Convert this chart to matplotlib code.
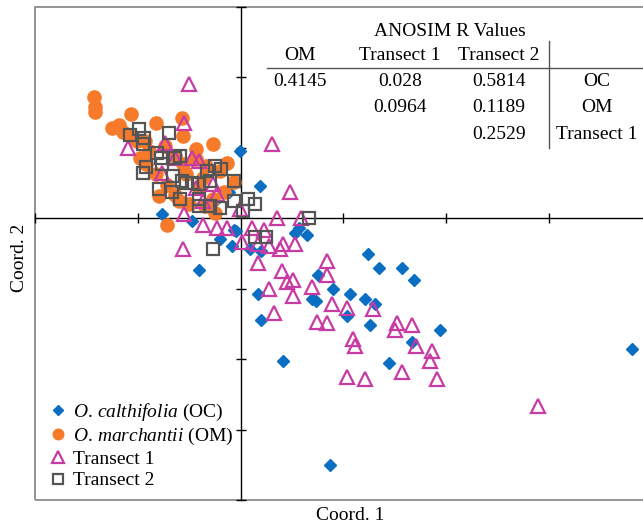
import matplotlib
matplotlib.use("Agg")
import matplotlib.pyplot as plt
from matplotlib.lines import Line2D
from matplotlib.patches import Rectangle

plt.rcParams['font.family'] = ['Liberation Serif', 'DejaVu Serif']
plt.rcParams['mathtext.fontset'] = 'custom'
plt.rcParams['mathtext.rm'] = 'Liberation Serif'
plt.rcParams['mathtext.it'] = 'Liberation Serif:italic'

# ---------------- data (Coord. 1, Coord. 2) ----------------
oc_x = [-0.01, 0.19, -0.76, -0.47, -0.40, -0.25, -0.11, -0.06, -0.20, -0.08, 0.09, 0.20,
        0.53, 0.57, 0.65, 1.24, 1.35, 1.57, 1.69, 0.75, 0.17, 0.90, 1.06, 1.21, 1.31,
        0.69, 0.73, 1.04, 0.20, 1.26, 1.94, 1.67, 0.41, 1.44, 3.81, 0.87, -0.04]
oc_y = [0.95, 0.46, 0.06, -0.04, -0.73, 0.24, 0.38, -0.16, -0.30, -0.40, -0.44, -0.47,
        -0.21, -0.14, -0.24, -0.50, -0.71, -0.71, -0.87, -0.80, -1.07, -1.01, -1.08, -1.15, -1.21,
        -1.14, -1.18, -1.39, -1.44, -1.51, -1.58, -1.75, -2.02, -2.05, -1.85, -3.50, -0.18]

om_x = [-1.43, -1.42, -1.42, -1.25, -1.18, -1.14, -1.07, -0.82, -0.57, -0.56, -1.01, -0.98,
        -0.92, -0.82, -0.72, -0.64, -0.60, -0.43, -0.43, -0.27, -0.13, -0.06, -0.25, -0.72,
        -0.56, -0.53, -0.37, -0.40, -0.27, -0.50, -0.89, -0.74, -0.64, -0.34, -0.20, -0.79,
        -1.08, -0.93, -0.35, -0.16]
om_y = [1.72, 1.58, 1.51, 1.28, 1.32, 1.22, 1.48, 1.35, 1.42, 1.17, 1.10, 0.85,
        0.77, 0.63, 0.47, 0.33, 0.24, 0.98, 0.84, 1.05, 0.78, 0.51, 0.07, -0.09,
        0.77, 0.63, 0.57, 0.43, 0.28, 0.20, 0.95, 1.02, 0.88, 0.74, 0.67, 0.31,
        1.17, 1.10, 0.17, 0.38]

t1_x = [-0.50, -0.55, -1.10, -0.74, 0.31, 0.48, -0.55, -0.56, -0.64, -0.47, -0.40, -0.76,
        -0.27, -0.23, -0.43, -0.37, -0.37, -0.23, -0.13, -0.01, 0.35, 0.59, 0.11, 0.23,
        0.01, 0.41, 0.53, 0.17, 0.28, 0.38, 0.17, 0.84, 0.84, 0.40, 0.45, 0.51, 0.69,
        0.28, 0.51, 0.89, 1.04, 1.29, 0.33, 0.74, 0.84, 1.52, 1.50, 1.67, 1.09, 1.11,
        1.71, 1.86, 1.84, 1.57, 1.04, 1.21, 1.91, 2.89]
t1_y = [1.91, 1.35, 1.00, 1.07, 1.05, 0.37, 0.06, -0.43, 0.85, 0.85, 0.81, 0.64,
        0.48, 0.34, 0.43, 0.24, -0.09, -0.14, -0.14, 0.13, 0.00, 0.00, -0.14, -0.16,
        -0.33, -0.36, -0.36, -0.37, -0.40, -0.44, -0.64, -0.61, -0.80, -0.75, -0.90, -0.87, -0.97,
        -1.01, -1.11, -1.22, -1.28, -1.29, -1.35, -1.47, -1.49, -1.49, -1.58, -1.51, -1.72, -1.82,
        -1.82, -1.89, -2.03, -2.18, -2.25, -2.28, -2.28, -2.67]

t2_x = [-0.99, -1.08, -0.94, -0.95, -0.70, -0.95, -0.92, -0.81, -0.77, -0.76, -0.59, -0.64,
        -0.66, -0.79, -0.67, -0.59, -0.57, -0.53, -0.47, -0.40, -0.33, -0.25, -0.19, -0.30,
        -0.40, -0.40, -0.30, -0.20, -0.06, -0.06, 0.07, 0.14, 0.02, 0.67, -0.27, 0.14, 0.25]
t2_y = [1.27, 1.18, 1.14, 1.05, 1.21, 0.64, 0.73, 0.92, 0.85, 0.77, 0.88, 0.85,
        0.60, 0.41, 0.38, 0.27, 0.53, 0.50, 0.50, 0.48, 0.67, 0.74, 0.70, 0.53,
        0.28, 0.17, 0.17, 0.14, 0.53, 0.24, 0.28, 0.20, 0.10, 0.01, -0.43, -0.27, -0.27]

series_labels = [r'$\mathit{O.\,calthifolia}$ (OC)', r'$\mathit{O.\,marchantii}$ (OM)',
                 'Transect 1', 'Transect 2']

# ANOSIM table
table_title = 'ANOSIM R Values'
table_cols = ['OM', 'Transect 1', 'Transect 2']
table_rows = ['OC', 'OM', 'Transect 1']
table_vals = [['0.4145', '0.028', '0.5814'],
              ['', '0.0964', '0.1189'],
              ['', '', '0.2529']]

# ---------------- figure ----------------
W, H = 643, 526
fig = plt.figure(figsize=(W / 100, H / 100), dpi=100)

def fx(px):
    return px / W

def fy(py):
    return 1 - py / H

ax_l, ax_r, ax_t, ax_b = 35, 643, 7, 500
ax = fig.add_axes([fx(ax_l), fy(ax_b), fx(ax_r) - fx(ax_l), fy(ax_t) - fy(ax_b)])
ax.set_xlim(-2.0, 3.915)
ax.set_ylim(-4.0, 3.0)

# axes through origin
ax.spines['left'].set_position('zero')
ax.spines['bottom'].set_position('zero')
ax.spines['top'].set_visible(False)
ax.spines['right'].set_visible(False)
for s in ['left', 'bottom']:
    ax.spines[s].set_color('black')
    ax.spines[s].set_linewidth(1.0)
ax.set_xticks([-2, -1, 1, 2, 3])
ax.set_yticks([-4, -3, -2, -1, 1, 2, 3])
ax.set_xticklabels([])
ax.set_yticklabels([])
ax.tick_params(direction='inout', length=7, width=1.0, color='black')

# outer frame
frame = Rectangle((0, 0), 1.02, 1, transform=ax.transAxes, fill=False,
                  edgecolor='#8c8c8c', linewidth=1.3, clip_on=False, zorder=0.5)
ax.add_patch(frame)

c_oc = '#0A6FC2'
c_om = '#F77A2A'
c_t1 = '#C83BA5'
c_t2 = '#555555'

ax.plot(oc_x, oc_y, linestyle='none', marker='D', ms=6.2, color=c_oc, mec=c_oc,
        label=series_labels[0], zorder=3)
ax.plot(om_x, om_y, linestyle='none', marker='o', ms=9.5, color=c_om, mec=c_om,
        label=series_labels[1], zorder=3)
ax.plot(t1_x, t1_y, linestyle='none', marker='^', ms=10.5, mfc='none', mec=c_t1, mew=1.6,
        label=series_labels[2], zorder=4)
ax.plot(t2_x, t2_y, linestyle='none', marker='s', ms=8.5, mfc='none', mec=c_t2, mew=1.6,
        label=series_labels[3], zorder=4)

leg = ax.legend(loc='lower left', bbox_to_anchor=(fx(37), fy(503)), bbox_transform=fig.transFigure,
                frameon=False, fontsize=14, handlelength=0.8, handletextpad=0.35,
                labelspacing=0.18, borderpad=0.2, markerscale=0.8)

# axis titles
fig.text(fx(350), fy(516), 'Coord. 1', ha='center', va='center', fontsize=14)
fig.text(fx(19), fy(258), 'Coord. 2', ha='center', va='center', fontsize=14, rotation=90)

# table
fs = 14
col_x = [300, 400, 499]
row_lab_x = 597
row_y = [82, 108, 134]
fig.text(fx(450), fy(31), table_title, ha='center', va='center', fontsize=fs)
for cx, c in zip(col_x, table_cols):
    fig.text(fx(cx), fy(56), c, ha='center', va='center', fontsize=fs)
for ry, rl, vals in zip(row_y, table_rows, table_vals):
    for cx, v in zip(col_x, vals):
        if v:
            fig.text(fx(cx), fy(ry), v, ha='center', va='center', fontsize=fs)
    fig.text(fx(row_lab_x), fy(ry), rl, ha='center', va='center', fontsize=fs)
fig.add_artist(Line2D([fx(267), fx(643)], [fy(68), fy(68)], color='#555555', lw=1.0,
                      transform=fig.transFigure))
fig.add_artist(Line2D([fx(549), fx(549)], [fy(41), fy(148)], color='#555555', lw=1.0,
                      transform=fig.transFigure))

fig.savefig('out.png', dpi=100)
